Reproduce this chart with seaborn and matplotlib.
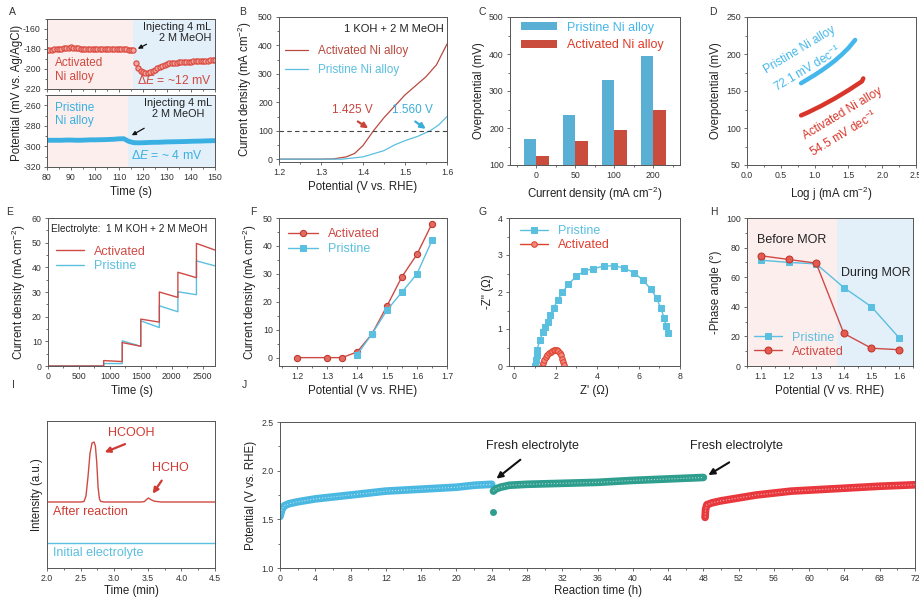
import numpy as np
import pandas as pd
import matplotlib.pyplot as plt
import seaborn as sns
from matplotlib.ticker import MultipleLocator

# ---------------- data ----------------
# A: potential response to MeOH injection
a_time = np.arange(80, 151)
a_act = [-181, -181, -181, -180.5, -180.5, -180, -180, -179.5, -179, -179, -178.5, -179, -179,
         -179.5, -180, -180, -180, -180, -180, -180, -180, -180, -180, -180, -180, -180, -180,
         -180, -180, -180, -180, -180, -180, -180.5, -181, -181, -181.5,
         -194, -199, -202, -203.5, -204, -204, -203.5, -202.5, -201, -199.5, -198, -197, -196,
         -195, -194.5, -194, -193.8, -193.6, -193.4, -193.2, -193, -193, -192.8, -192.6, -192.5,
         -192.4, -192.2, -192, -192, -191.8, -191.6, -191.5, -191.3, -191.2]
a_time_pri = np.arange(80, 151, 2)
a_pri = [-294, -294, -294, -294, -293.8, -293.8, -294, -294, -293.8, -293.6, -293.6, -293.5,
         -293.4, -293.2, -293, -292.6, -292.5, -295, -296.3, -296.5, -296.4, -296.2, -296, -296,
         -295.8, -295.6, -295.5, -295.4, -295.3, -295.2, -295, -294.9, -294.8, -294.6, -294.5, -294.4]

# B: LSV curves
b_pot_act = [1.20, 1.30, 1.33, 1.36, 1.38, 1.40, 1.425, 1.45, 1.50, 1.55, 1.575, 1.60]
b_cur_act = [0, 0, 1, 8, 20, 48, 100, 146, 226, 290, 332, 405]
b_pot_pri = [1.20, 1.35, 1.40, 1.45, 1.475, 1.50, 1.53, 1.56, 1.58, 1.60]
b_cur_pri = [0, 0, 8, 30, 50, 65, 80, 100, 120, 150]

# C: overpotential bars
c_density = ["0", "50", "100", "200"]
c_pristine = [170, 235, 330, 395]
c_activated = [125, 165, 195, 250]

# D: Tafel plots
d_logj_pri = [0.8, 0.9, 1.0, 1.1, 1.2, 1.3, 1.4, 1.5, 1.6]
d_eta_pri = [160.5, 166, 171.5, 177.5, 184, 191, 199, 208, 219]
d_logj_act = [0.8, 0.9, 1.0, 1.1, 1.2, 1.3, 1.4, 1.5, 1.6, 1.7, 1.72]
d_eta_act = [117, 121, 125.5, 130, 135, 140, 145.5, 151, 157, 163, 167]

# E: multistep chronoamperometry
e_step_time = [900, 1200, 1500, 1800, 2100, 2400]
e_act_peak = [2.2, 9.5, 19.0, 30.0, 38.0, 49.7]
e_act_end = [1.8, 8.0, 17.8, 27.8, 35.8, 47.0]
e_pri_peak = [1.0, 10.2, 18.3, 24.4, 30.1, 42.6]
e_pri_end = [1.0, 8.0, 15.6, 22.0, 28.9, 40.6]

# F: steady-state current density
f_pot = [1.2, 1.3, 1.35, 1.4, 1.45, 1.5, 1.55, 1.6, 1.65]
f_act = [0, 0, 0, 2, 8.5, 18.5, 29, 37, 48]
f_pri = [0, 0, 0, 1, 8.5, 17, 23.5, 30, 42]

# G: Nyquist plots
g_re_pri = [1.01, 1.04, 1.08, 1.09, 1.25, 1.38, 1.50, 1.62, 1.73, 1.90, 2.09, 2.33, 2.62, 2.99,
            3.39, 3.82, 4.31, 4.82, 5.30, 5.78, 6.20, 6.59, 6.88, 7.07, 7.23, 7.33, 7.44]
g_im_pri = [0.0, 0.15, 0.29, 0.43, 0.70, 0.92, 1.06, 1.19, 1.38, 1.56, 1.78, 1.99, 2.21, 2.42,
            2.57, 2.63, 2.70, 2.71, 2.65, 2.52, 2.33, 2.08, 1.83, 1.56, 1.31, 1.08, 0.88]
g_re_act = [1.33, 1.38, 1.45, 1.52, 1.60, 1.68, 1.76, 1.84, 1.92, 1.98, 2.05, 2.12, 2.20, 2.27,
            2.33, 2.37, 2.38]
g_im_act = [0.0, 0.08, 0.16, 0.23, 0.29, 0.34, 0.38, 0.41, 0.43, 0.44, 0.43, 0.41, 0.36, 0.29,
            0.20, 0.10, 0.02]

# H: phase angle
h_pot = [1.1, 1.2, 1.3, 1.4, 1.5, 1.6]
h_pri = [71.5, 70, 69, 53, 40, 19]
h_act = [74.5, 72, 69.5, 22, 12, 11]

# I: HPLC traces
i_time = [2.0, 2.50, 2.55, 2.58, 2.61, 2.64, 2.67, 2.70, 2.72, 2.74, 2.76, 2.78, 2.80, 2.85,
          3.40, 3.45, 3.48, 3.51, 3.55, 3.60, 3.70, 4.5]
i_after = [0.449, 0.449, 0.452, 0.49, 0.62, 0.78, 0.85, 0.857, 0.83, 0.72, 0.55, 0.47, 0.453, 0.449,
           0.449, 0.452, 0.466, 0.476, 0.464, 0.454, 0.449, 0.449]
i_time_init = [2.0, 4.5]
i_init = [0.17, 0.17]

# J: stability test
j_t1 = [0, 0.2, 0.5, 1, 2, 4, 6, 8, 10, 12, 14, 16, 18, 20, 22, 24]
j_v1 = [1.53, 1.60, 1.64, 1.66, 1.68, 1.71, 1.73, 1.75, 1.77, 1.79, 1.80, 1.81, 1.82, 1.83, 1.85, 1.86]
j_t2 = [24.2, 24.4, 25, 26, 28, 32, 36, 40, 44, 48]
j_v2 = [1.79, 1.81, 1.83, 1.85, 1.86, 1.87, 1.88, 1.90, 1.915, 1.93]
j_t3 = [48.2, 48.25, 48.4, 49, 50, 52, 54, 56, 58, 60, 64, 68, 72]
j_v3 = [1.52, 1.60, 1.65, 1.67, 1.69, 1.72, 1.75, 1.77, 1.79, 1.80, 1.82, 1.84, 1.855]

# ---------------- style ----------------
sns.set_theme(style="ticks")
plt.rcParams["font.family"] = ["Liberation Sans", "DejaVu Sans"]
plt.rcParams["mathtext.fontset"] = "custom"
plt.rcParams["mathtext.rm"] = "Liberation Sans"
plt.rcParams["mathtext.it"] = "Liberation Sans:italic"
plt.rcParams["axes.unicode_minus"] = False

RED = "#cf4a44"
BLUE = "#5bbfe0"
BAR_BLUE = "#45b7ea"
BAR_RED = "#e03a26"
PINK = "#fdeeee"
SKY = "#e3f0fa"
LAB = 8.3
W, H = 919, 597

fig = plt.figure(figsize=(W / 100, H / 100), dpi=100)


def px_axes(l, t, r, b):
    return fig.add_axes([l / W, 1 - b / H, (r - l) / W, (b - t) / H])


def style(ax, xmaj, xmin, ymaj, ymin, xlabel="", ylabel=""):
    for s in ax.spines.values():
        s.set_color("#555555")
        s.set_linewidth(0.7)
    ax.xaxis.set_major_locator(MultipleLocator(xmaj))
    ax.xaxis.set_minor_locator(MultipleLocator(xmin))
    if ymaj:
        ax.yaxis.set_major_locator(MultipleLocator(ymaj))
        ax.yaxis.set_minor_locator(MultipleLocator(ymin))
    ax.tick_params(which="both", direction="out", width=0.6, color="#555555",
                   labelsize=6.3, labelcolor="#333333", pad=2)
    ax.tick_params(which="major", length=2.5)
    ax.tick_params(which="minor", length=1.5)
    ax.set_xlabel(xlabel, fontsize=LAB, color="#222222", labelpad=3)
    ax.set_ylabel(ylabel, fontsize=LAB, color="#222222", labelpad=3)


def letter(x, y, s):
    fig.text(x / W, 1 - y / H, s, fontsize=7.5, color="#333333", ha="center", va="center")


CD = r"Current density (mA cm$^{-2}$)"

# ---------------- A ----------------
axA1 = px_axes(47, 19, 215, 89)
axA1.axvspan(80, 116, color=PINK, lw=0)
axA1.axvspan(116, 150, color=SKY, lw=0)
sns.scatterplot(x=a_time, y=a_act, ax=axA1, marker="o", s=14, color="#f3a49c",
                edgecolor="#d9463c", linewidth=0.8)
axA1.set_xlim(80, 150)
axA1.set_ylim(-220, -150)
style(axA1, 10, 5, 20, 10)
axA1.tick_params(labelbottom=False)
axA1.text(148.5, -153, "Injecting 4 mL\n2 M MeOH", fontsize=7.8, ha="right", va="top",
          multialignment="right", color="#222222", linespacing=1.1)
axA1.annotate("", xy=(116.8, -181), xytext=(122.5, -174),
              arrowprops=dict(arrowstyle="-|>", color="#111111", lw=0.9, mutation_scale=6))
axA1.text(83.5, -201, "Activated\nNi alloy", fontsize=8.5, color="#d04a40", va="center",
          linespacing=1.15)
axA1.text(148.5, -212, r"$\Delta E$ = ~12 mV", fontsize=8.8, color="#d04a40", ha="right",
          va="center")

axA2 = px_axes(47, 95, 215, 167)
axA2.axvspan(80, 113.7, color=PINK, lw=0)
axA2.axvspan(113.7, 150, color=SKY, lw=0)
sns.lineplot(x=a_time_pri, y=a_pri, ax=axA2, color="#3ab0e2", lw=3.5)
axA2.set_xlim(80, 150)
axA2.set_ylim(-320, -250)
style(axA2, 10, 5, 20, 10, xlabel="Time (s)")
axA2.text(134.6, -253, "Injecting 4 mL\n2 M MeOH", fontsize=7.8, ha="center", va="top",
          multialignment="center", color="#222222", linespacing=1.1)
axA2.annotate("", xy=(114.3, -290.5), xytext=(121.5, -281),
              arrowprops=dict(arrowstyle="-|>", color="#111111", lw=0.9, mutation_scale=6))
axA2.text(83.5, -269, "Pristine\nNi alloy", fontsize=8.5, color="#3ab0e0", va="center",
          linespacing=1.15)
axA2.text(130, -309, r"$\Delta E$ = ~ 4 mV", fontsize=8.8, color="#3ab0e0", ha="center",
          va="center")
fig.text(17 / W, 1 - 93 / H, "Potential (mV vs. Ag/AgCl)", rotation=90, fontsize=LAB,
         color="#222222", ha="center", va="center")
letter(12, 12, "A")

# ---------------- B ----------------
axB = px_axes(279, 17, 447, 162)
sns.lineplot(x=b_pot_act, y=b_cur_act, ax=axB, color="#b84a40", lw=0.9, label="Activated Ni alloy")
sns.lineplot(x=b_pot_pri, y=b_cur_pri, ax=axB, color=BLUE, lw=0.9, label="Pristine Ni alloy")
axB.axhline(100, color="#444444", lw=0.8, ls=(0, (4, 3)))
axB.set_xlim(1.2, 1.6)
axB.set_ylim(-10, 500)
style(axB, 0.1, 0.05, 100, 50, xlabel="Potential (V vs. RHE)", ylabel=CD)
axB.legend(loc="upper left", bbox_to_anchor=(0.02, 0.82), frameon=False, fontsize=8.5,
           handlelength=2.0, labelspacing=0.55, borderaxespad=0, borderpad=0.2,
           labelcolor=["#b84a40", BLUE])
axB.text(1.592, 458, "1 KOH + 2 M MeOH", fontsize=8, ha="right", va="center", color="#222222")
axB.text(1.375, 172, "1.425 V", fontsize=8.5, color="#c8453c", ha="center", va="center")
axB.annotate("", xy=(1.418, 103), xytext=(1.382, 138),
             arrowprops=dict(arrowstyle="-|>", color="#c8453c", lw=1.6, mutation_scale=8))
axB.text(1.518, 172, "1.560 V", fontsize=8.5, color="#3aaed8", ha="center", va="center")
axB.annotate("", xy=(1.555, 101), xytext=(1.519, 138),
             arrowprops=dict(arrowstyle="-|>", color="#3aaed8", lw=1.6, mutation_scale=8))
letter(243, 12, "B")

# ---------------- C ----------------
axC = px_axes(510, 17, 680, 165)
c_df = pd.DataFrame({
    "density": c_density * 2,
    "eta": c_pristine + c_activated,
    "sample": ["Pristine Ni alloy"] * 4 + ["Activated Ni alloy"] * 4,
})
sns.barplot(data=c_df, x="density", y="eta", hue="sample", ax=axC,
            palette=[BAR_BLUE, BAR_RED], width=0.64, gap=0, linewidth=0)
axC.set_xlim(-0.67, 3.69)
axC.set_ylim(100, 500)
style(axC, 1, 0.5, 100, 50, xlabel=CD, ylabel="Overpotential (mV)")
axC.legend(loc="upper left", bbox_to_anchor=(0.05, 0.985), frameon=False, fontsize=9,
           handlelength=2.9, handleheight=0.6, labelspacing=0.45, borderaxespad=0,
           borderpad=0.2, labelcolor=[BAR_BLUE, BAR_RED])
letter(482, 12, "C")

# ---------------- D ----------------
axD = px_axes(747, 17, 916, 165)
sns.lineplot(x=d_logj_pri, y=d_eta_pri, ax=axD, color=BAR_BLUE, lw=3.2)
sns.lineplot(x=d_logj_act, y=d_eta_act, ax=axD, color="#d9362b", lw=3.2)
axD.set_xlim(0, 2.5)
axD.set_ylim(50, 250)
style(axD, 0.5, 0.25, 50, 25, xlabel=r"Log j (mA cm$^{-2}$)", ylabel="Overpotential (mV)")
axD.xaxis.set_major_formatter(plt.FormatStrFormatter("%.1f"))
for x, y, s, c in [(0.784, 205, "Pristine Ni alloy", BAR_BLUE),
                   (0.90, 181, r"72.1 mV dec$^{-1}$", BAR_BLUE),
                   (1.42, 119, "Activated Ni alloy", "#d9362b"),
                   (1.43, 92, r"54.5 mV dec$^{-1}$", "#d9362b")]:
    axD.text(x, y, s, fontsize=8.5, color=c, rotation=31, rotation_mode="anchor",
             ha="center", va="center")
letter(713, 12, "D")

# ---------------- E ----------------
def steps(peaks, ends):
    t, v, prev = [0], [0], 0
    for ts, pk, en in zip(e_step_time, peaks, ends):
        t += [ts, ts, ts + 300]
        v += [prev, pk, en]
        prev = en
    return t, v


axE = px_axes(48, 218, 215, 366)
et, ev = steps(e_pri_peak, e_pri_end)
sns.lineplot(x=et, y=ev, ax=axE, color=BLUE, lw=1.0, sort=False, estimator=None, label="Pristine")
et, ev = steps(e_act_peak, e_act_end)
sns.lineplot(x=et, y=ev, ax=axE, color=RED, lw=1.0, sort=False, estimator=None, label="Activated")
axE.set_xlim(0, 2700)
axE.set_ylim(0, 60)
style(axE, 500, 250, 10, 5, xlabel="Time (s)", ylabel=CD)
h, l = axE.get_legend_handles_labels()
axE.legend(h[::-1], l[::-1], loc="upper left", bbox_to_anchor=(0.03, 0.83), frameon=False,
           fontsize=9, handlelength=2.3, labelspacing=0.2, borderaxespad=0, borderpad=0.2,
           labelcolor=[RED, BLUE])
axE.text(0.02, 0.925, "Electrolyte:  1 M KOH + 2 M MeOH", transform=axE.transAxes,
         fontsize=7.2, va="center", color="#222222")
letter(10, 212, "E")

# ---------------- F ----------------
axF = px_axes(279, 218, 447, 366)
sns.lineplot(x=f_pot, y=f_act, ax=axF, color=RED, lw=1.0, marker="o", markersize=4.5,
             markerfacecolor="#e36a60", markeredgecolor="#c0352c", label="Activated")
sns.lineplot(x=f_pot[3:], y=f_pri[3:], ax=axF, color=BLUE, lw=1.0, marker="s", markersize=4,
             markerfacecolor=BLUE, markeredgecolor=BLUE, label="Pristine")
axF.set_xlim(1.14, 1.7)
axF.set_ylim(-3, 50)
style(axF, 0.1, 0.05, 10, 5, xlabel="Potential (V vs. RHE)", ylabel=CD)
axF.legend(loc="upper left", bbox_to_anchor=(0.04, 0.95), frameon=False, fontsize=9,
           handlelength=2.4, labelspacing=0.25, borderaxespad=0, borderpad=0.2,
           labelcolor=[RED, BLUE])
letter(253, 212, "F")

# ---------------- G ----------------
axG = px_axes(509, 218, 680, 366)
sns.lineplot(x=g_re_pri, y=g_im_pri, ax=axG, color=BLUE, lw=1.0, marker="s", markersize=4,
             markerfacecolor=BLUE, markeredgecolor=BLUE, sort=False, estimator=None,
             label="Pristine")
sns.lineplot(x=g_re_act, y=g_im_act, ax=axG, color="#e0402f", lw=1.0, marker="o", markersize=4,
             markerfacecolor="#f08a7c", markeredgecolor="#e0402f", sort=False, estimator=None,
             label="Activated")
axG.set_xlim(-0.25, 8.0)
axG.set_ylim(0, 4)
style(axG, 2, 1, 1, 0.5, xlabel="Z' (Ω)", ylabel="-Z'' (Ω)")
axG.legend(loc="upper left", bbox_to_anchor=(0.05, 0.97), frameon=False, fontsize=9,
           handlelength=2.2, labelspacing=0.2, borderaxespad=0, borderpad=0.2,
           labelcolor=[BLUE, "#e0402f"])
letter(483, 212, "G")

# ---------------- H ----------------
axH = px_axes(747, 218, 913, 366)
axH.axvspan(1.05, 1.375, color=PINK, lw=0)
axH.axvspan(1.375, 1.65, color=SKY, lw=0)
sns.lineplot(x=h_pot, y=h_pri, ax=axH, color=BLUE, lw=1.0, marker="s", markersize=4.5,
             markerfacecolor=BLUE, markeredgecolor=BLUE, label="Pristine")
sns.lineplot(x=h_pot, y=h_act, ax=axH, color=RED, lw=1.0, marker="o", markersize=5,
             markerfacecolor="#e35a50", markeredgecolor="#c0352c", label="Activated")
axH.set_xlim(1.05, 1.65)
axH.set_ylim(0, 100)
style(axH, 0.1, 0.05, 20, 10, xlabel="Potential (V vs. RHE)", ylabel="-Phase angle (°)")
axH.legend(loc="lower left", bbox_to_anchor=(0.03, 0.04), frameon=False, fontsize=9,
           handlelength=2.2, labelspacing=0.15, borderaxespad=0, borderpad=0.2,
           labelcolor=[BLUE, RED])
axH.text(1.085, 85, "Before MOR", fontsize=9, color="#222222", va="center")
axH.text(1.388, 63, "During MOR", fontsize=9, color="#222222", va="center")
letter(714, 212, "H")

# ---------------- I ----------------
axI = px_axes(47, 421, 215, 568)
sns.lineplot(x=i_time, y=i_after, ax=axI, color=RED, lw=1.0)
sns.lineplot(x=i_time_init, y=i_init, ax=axI, color=BLUE, lw=1.0)
axI.set_xlim(2.0, 4.5)
axI.set_ylim(0, 1)
style(axI, 0.5, 0.25, None, None, xlabel="Time (min)", ylabel="Intensity (a.u.)")
axI.xaxis.label.set_va("top")
axI.xaxis.labelpad = 1.5
axI.set_yticks([])
axI.text(3.26, 0.92, "HCOOH", fontsize=9, color="#d03a33", ha="center", va="center")
axI.annotate("", xy=(2.82, 0.78), xytext=(3.2, 0.85),
             arrowprops=dict(arrowstyle="-|>", color="#d03a33", lw=1.6, mutation_scale=8))
axI.text(3.83, 0.68, "HCHO", fontsize=9, color="#d03a33", ha="center", va="center")
axI.annotate("", xy=(3.55, 0.49), xytext=(3.73, 0.61),
             arrowprops=dict(arrowstyle="-|>", color="#d03a33", lw=1.6, mutation_scale=8))
axI.text(2.09, 0.38, "After reaction", fontsize=9, color="#d03a33", va="center")
axI.text(2.09, 0.10, "Initial electrolyte", fontsize=9, color=BLUE, va="center")
letter(13, 385, "I")

# ---------------- J ----------------
axJ = px_axes(280, 422, 915, 568)
for t, v, c in [(j_t1, j_v1, "#4ab8e0"), (j_t2, j_v2, "#2e9e8e"), (j_t3, j_v3, "#e8383d")]:
    sns.lineplot(x=t, y=v, ax=axJ, color=c, lw=5.5, sort=False, estimator=None)
    sns.lineplot(x=t, y=v, ax=axJ, color="white", lw=0.8, alpha=0.6, ls=":", sort=False,
                 estimator=None)
sns.scatterplot(x=[24.1], y=[1.58], ax=axJ, color="#2e9e8e", s=25, linewidth=0)
axJ.set_xlim(0, 72)
axJ.set_ylim(1.0, 2.5)
style(axJ, 4, 2, 0.5, 0.25, xlabel="Reaction time (h)", ylabel="Potential (V vs. RHE)")
axJ.xaxis.labelpad = 1.5
axJ.yaxis.set_major_formatter(plt.FormatStrFormatter("%.1f"))
axJ.text(28.6, 2.25, "Fresh electrolyte", fontsize=9, color="#222222", ha="center", va="center")
axJ.annotate("", xy=(24.3, 1.90), xytext=(27.5, 2.13),
             arrowprops=dict(arrowstyle="-|>", color="#111111", lw=1.5, mutation_scale=9))
axJ.text(51.7, 2.25, "Fresh electrolyte", fontsize=9, color="#222222", ha="center", va="center")
axJ.annotate("", xy=(48.3, 1.94), xytext=(51.2, 2.10),
             arrowprops=dict(arrowstyle="-|>", color="#111111", lw=1.5, mutation_scale=9))
letter(244, 385, "J")

fig.savefig("out.png", dpi=100)
